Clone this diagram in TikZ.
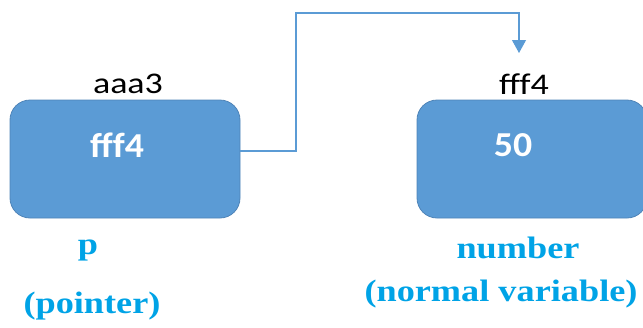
\documentclass[tikz,border=0pt]{standalone}
\usepackage{fontspec}
\setmainfont{Liberation Serif}
\newfontfamily\addrfont[FakeStretch=1.2]{Carlito}
\newfontfamily\valfont[FakeStretch=1.08]{Carlito}
\newfontfamily\namefont[FakeStretch=1.17]{Liberation Serif}
\usetikzlibrary{positioning}
\usetikzlibrary{arrows.meta}
\definecolor{cellblue}{HTML}{5B9BD5}
\definecolor{celledge}{HTML}{4F84B8}
\definecolor{namecyan}{HTML}{00A3E6}

\tikzset{
  cell/.style={draw=celledge, line width=0.8pt, fill=cellblue, rounded corners=20pt,
    minimum width=230pt, minimum height=118pt, inner sep=0pt},
  valtext/.style={text=white, inner sep=0pt, font=\valfont\bfseries\fontsize{35}{38}\selectfont},
  addrtext/.style={text=black, inner sep=0pt, font=\addrfont\fontsize{30}{34}\selectfont},
  vartext/.style={text=namecyan, inner sep=0pt, font=\namefont\bfseries\fontsize{31}{34}\selectfont},
  link/.style={draw=cellblue, line width=1.1pt, -{Triangle[width=14pt,length=13pt]}}
}

\begin{document}
\begin{tikzpicture}[x=1pt,y=-1pt]
    \useasboundingbox (0,0) rectangle (643,327);

    % Pointer variable
    \node[cell] (pbox) at (125,159) {};
    \node[valtext] (pval) at (117,145) {fff4};
    \node[addrtext] (paddr) at (128,84) {aaa3};
    \node[vartext] (pname) at (88,250) {p};
    \node[vartext] (pkind) at (92,306) {(pointer)};

    % Normal variable
    \node[cell] (nbox) at (532,159) {};
    \node[valtext] (nval) at (513,145) {50};
    \node[addrtext] (naddr) at (524,84) {fff4};
    \node[vartext] (nname) at (518,248) {number};
    \node[vartext] (nkind) at (501,294) {(normal variable)};

    % Pointer link
    \coordinate (bend) at (296,13);
    \coordinate (tip) at (519,53);
    \draw[link] ([yshift=8pt]pbox.east) -| (bend) -| (tip);
\end{tikzpicture}
\end{document}
